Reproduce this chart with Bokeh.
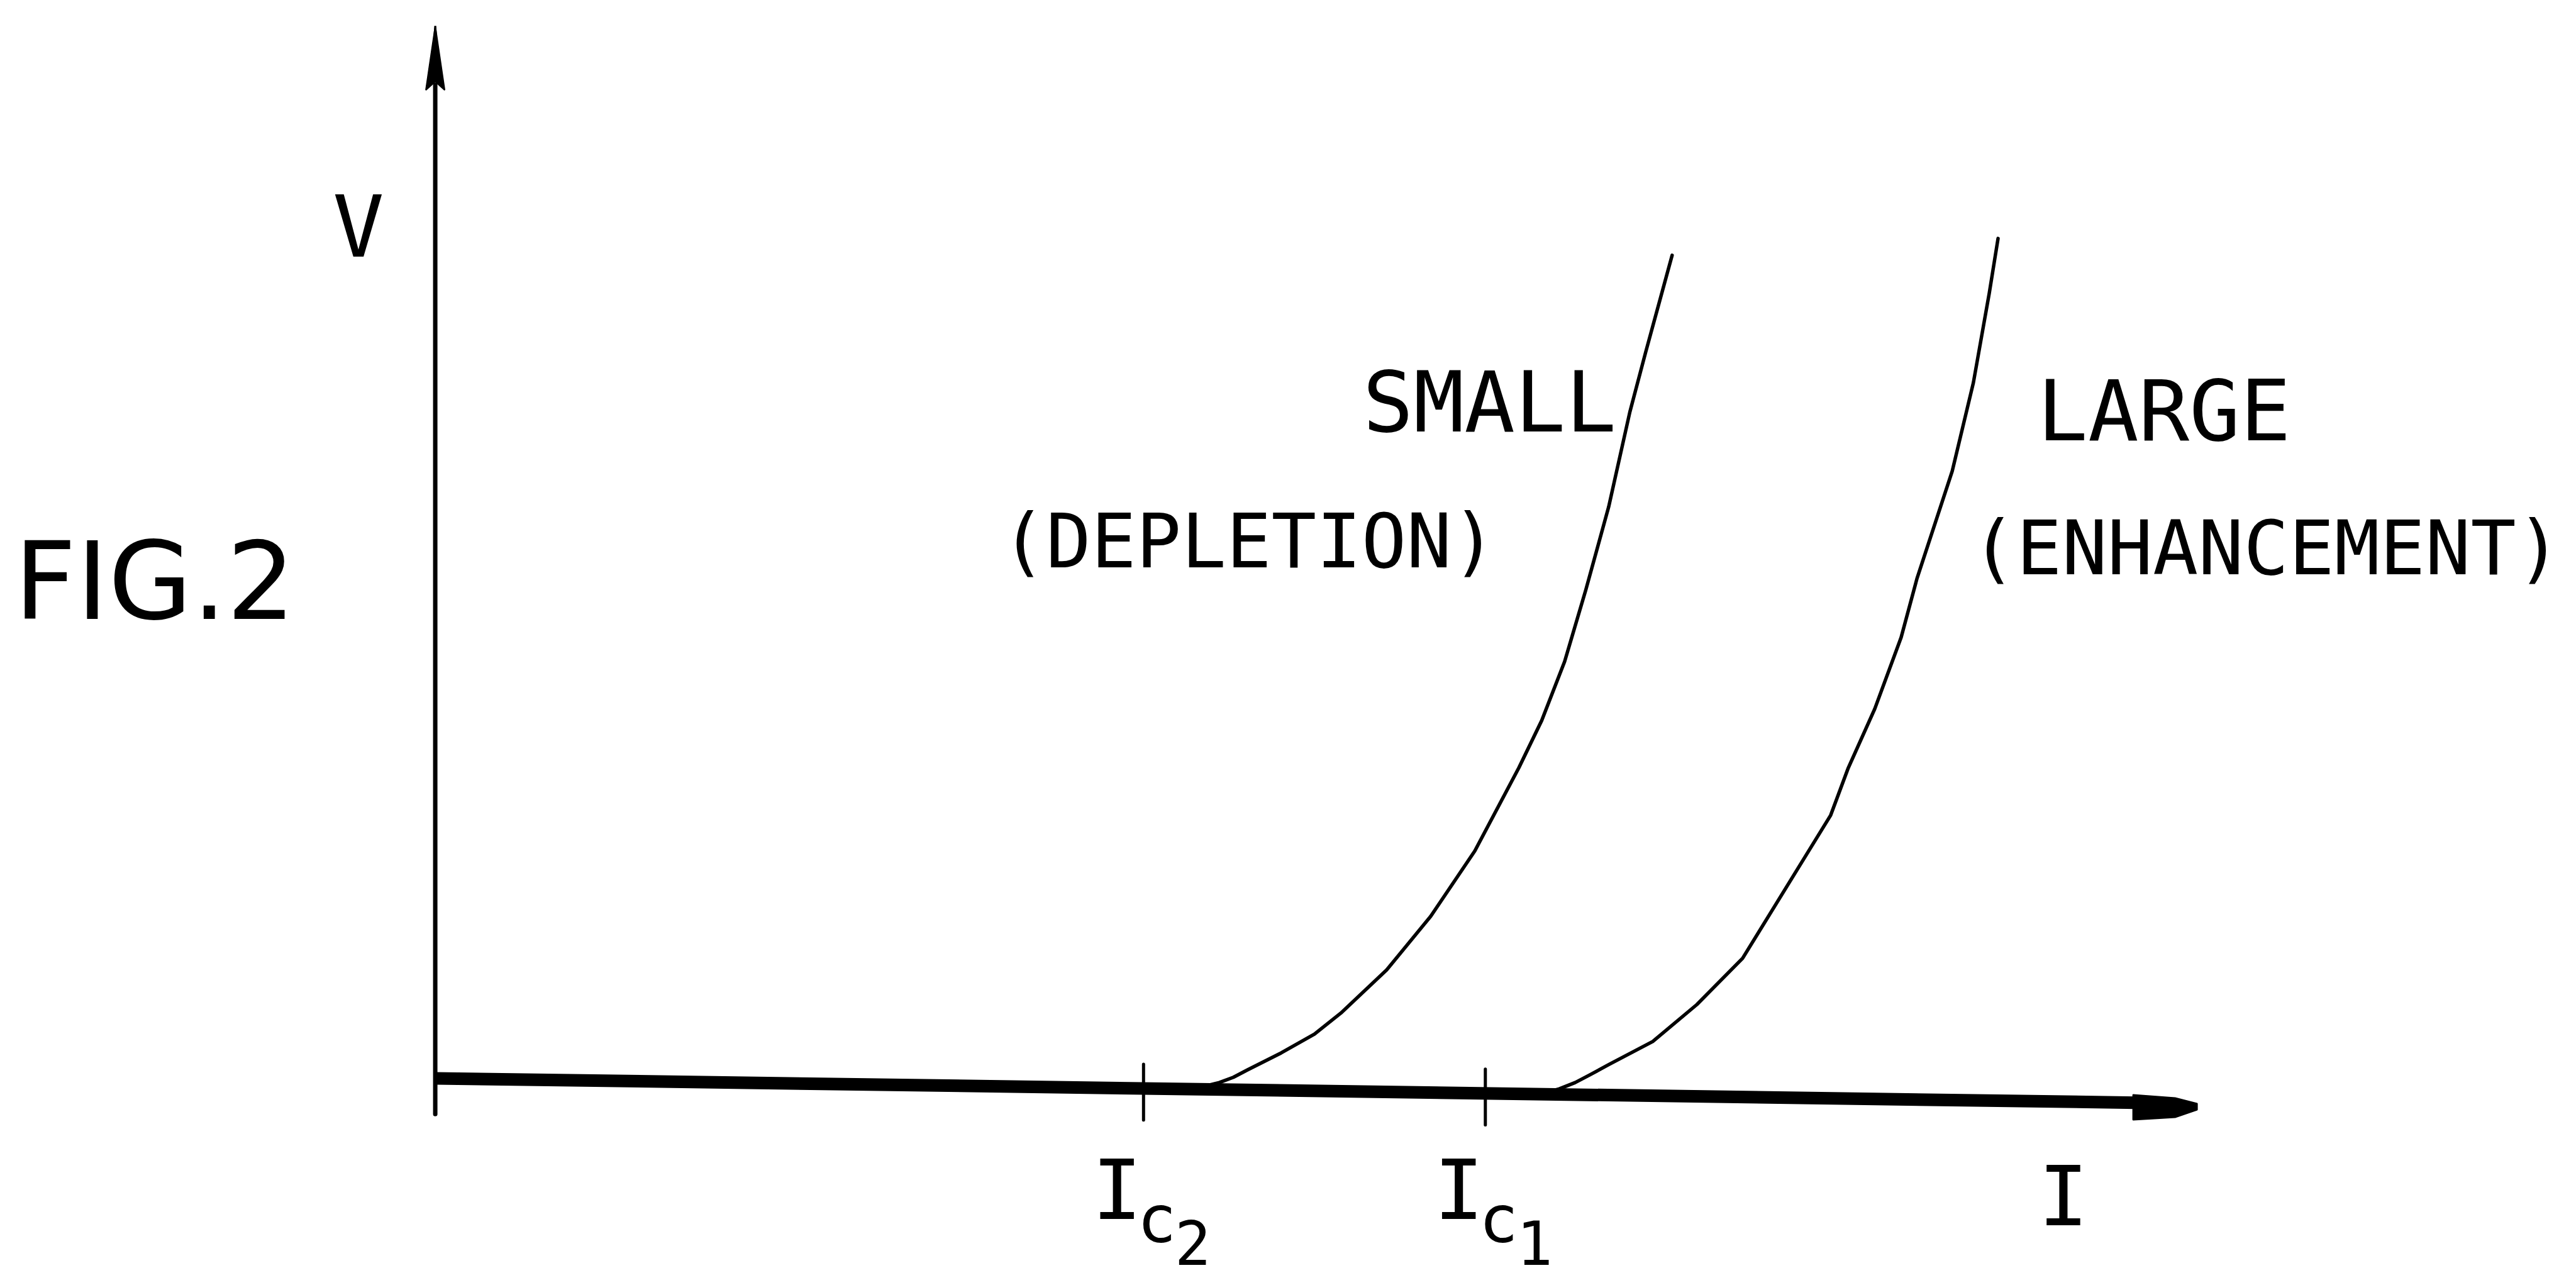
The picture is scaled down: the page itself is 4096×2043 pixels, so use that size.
import numpy as np
from bokeh.plotting import figure
from bokeh.models import Range1d
from bokeh.core.properties import value
from bokeh.embed import file_html
from bokeh.resources import INLINE

# ---------------- data ----------------
# arbitrary units: I (current) along the horizontal, V (voltage) along the vertical
axis_I = [0.0, 10.0]            # horizontal I axis: origin -> arrow tip
axis_V = [-0.34, 10.0]          # vertical V axis: small stub below origin -> arrow tip
baseline_V = [0.0, -0.24]       # V of the drawn I axis at its two ends (drawing is slightly skewed)

I_c = [4.02, 5.96]              # critical currents I_c2 (small) and I_c1 (large)
I_c_index = ["2", "1"]

small_I = [4.33, 4.45, 4.53, 4.61, 4.80, 4.99, 5.14, 5.40, 5.65, 5.90, 6.15, 6.28, 6.41, 6.53, 6.66, 6.78, 6.87, 7.02]
small_V = [-0.09, -0.04, 0.01, 0.08, 0.24, 0.42, 0.62, 1.03, 1.54, 2.16, 2.95, 3.40, 3.96, 4.64, 5.43, 6.33, 6.90, 7.82]

large_I = [6.25, 6.38, 6.47, 6.55, 6.66, 6.91, 7.16, 7.42, 7.67, 7.92, 8.02, 8.17, 8.32, 8.41, 8.61, 8.73, 8.82, 8.87]
large_V = [-0.16, -0.10, -0.04, 0.03, 0.13, 0.35, 0.70, 1.14, 1.82, 2.50, 2.95, 3.51, 4.19, 4.75, 5.77, 6.61, 7.46, 7.98]

# ---------------- layout / style ----------------
W, H = 4096, 2043
X0, X1 = -2.4686, 12.152
Y0, Y1 = -1.967, 10.243
PX_I = W / (X1 - X0)            # screen px per I unit
PX_V = H / (Y1 - Y0)            # screen px per V unit

INK = "black"
MONO = value("DejaVu Sans Mono")
SANS = value("DejaVu Sans")

p = figure(width=W, height=H, x_range=Range1d(X0, X1), y_range=Range1d(Y0, Y1),
           output_backend="svg", toolbar_location=None,
           x_axis_location=None, y_axis_location=None, min_border=0)
p.grid.visible = False
p.outline_line_color = None
p.background_fill_color = "white"
p.border_fill_color = "white"

# --- V axis (vertical arrow) ---
v_head_len, v_head_half = 102, 15          # px
v_base = axis_V[1] - v_head_len / PX_V
p.line([0, 0], [axis_V[0], v_base + 0.05], line_color=INK, line_width=7, line_cap="round")
p.patch([-v_head_half / PX_I, 0, v_head_half / PX_I, 0.0],
        [v_base, axis_V[1], v_base, v_base + 0.08],
        fill_color=INK, line_color=INK, line_width=2)
p.patch([-4 / PX_I, 0, 4 / PX_I], [v_base + 0.3, axis_V[1], v_base + 0.3],
        fill_color=INK, line_color=INK, line_width=3)

# --- I axis (thick, slightly skewed baseline with blunt arrow head) ---
slope = (baseline_V[1] - baseline_V[0]) / (axis_I[1] - axis_I[0])
def base_at(i):
    return baseline_V[0] + slope * (i - axis_I[0])

h_head_len = 102
h_start = axis_I[1] - h_head_len / PX_I
p.line([axis_I[0], h_start + 0.02], [base_at(axis_I[0]), base_at(h_start + 0.02)],
       line_color=INK, line_width=20, line_cap="butt")
tip_v = base_at(axis_I[1]) - 0.03
head_dx = [-h_head_len, -35, 0, 0, -35, -h_head_len]
head_dy = [19, 14, 5, -5, -17, -21]
p.patch([axis_I[1] + dx / PX_I for dx in head_dx],
        [tip_v + dy / PX_V for dy in head_dy],
        fill_color=INK, line_color=INK, line_width=2)

# --- ticks at the critical currents ---
tick_up, tick_down = 0.23, 0.30
for ic in I_c:
    b = base_at(ic)
    p.line([ic, ic], [b - tick_down, b + tick_up], line_color=INK, line_width=5, line_cap="round")

# --- characteristic curves ---
p.line(small_I, small_V, line_color=INK, line_width=5.5, line_join="round", line_cap="round")
p.line(large_I, large_V, line_color=INK, line_width=5.5, line_join="round", line_cap="round")

# --- texts ---
def txt(x, y, s, size, font=MONO, align="left"):
    p.text(x=[x], y=[y], text=[s], text_font=font, text_font_size=size,
           text_align=align, text_baseline="alphabetic", text_color=INK)

txt(-0.436, 8.09, "V", "136px", align="center")
txt(-2.39, 4.72, "FIG.2", "172px", font=SANS)
txt(5.264, 6.42, "SMALL", "134px")
txt(3.211, 5.10, "(DEPLETION)", "119px")
txt(9.092, 6.34, "LARGE", "134px")
txt(8.716, 5.04, "(ENHANCEMENT)", "120px")

for ic, idx in zip(I_c, I_c_index):
    txt(ic - 0.15, -1.06, "I", "132px", align="center")
    txt(ic + 0.075, -1.34, "c", "104px", align="center")
    txt(ic + 0.28, -1.56, idx, "96px", align="center")
txt(9.241, -1.12, "I", "132px", align="center")

open("out.html", "w").write(file_html(p, INLINE))
